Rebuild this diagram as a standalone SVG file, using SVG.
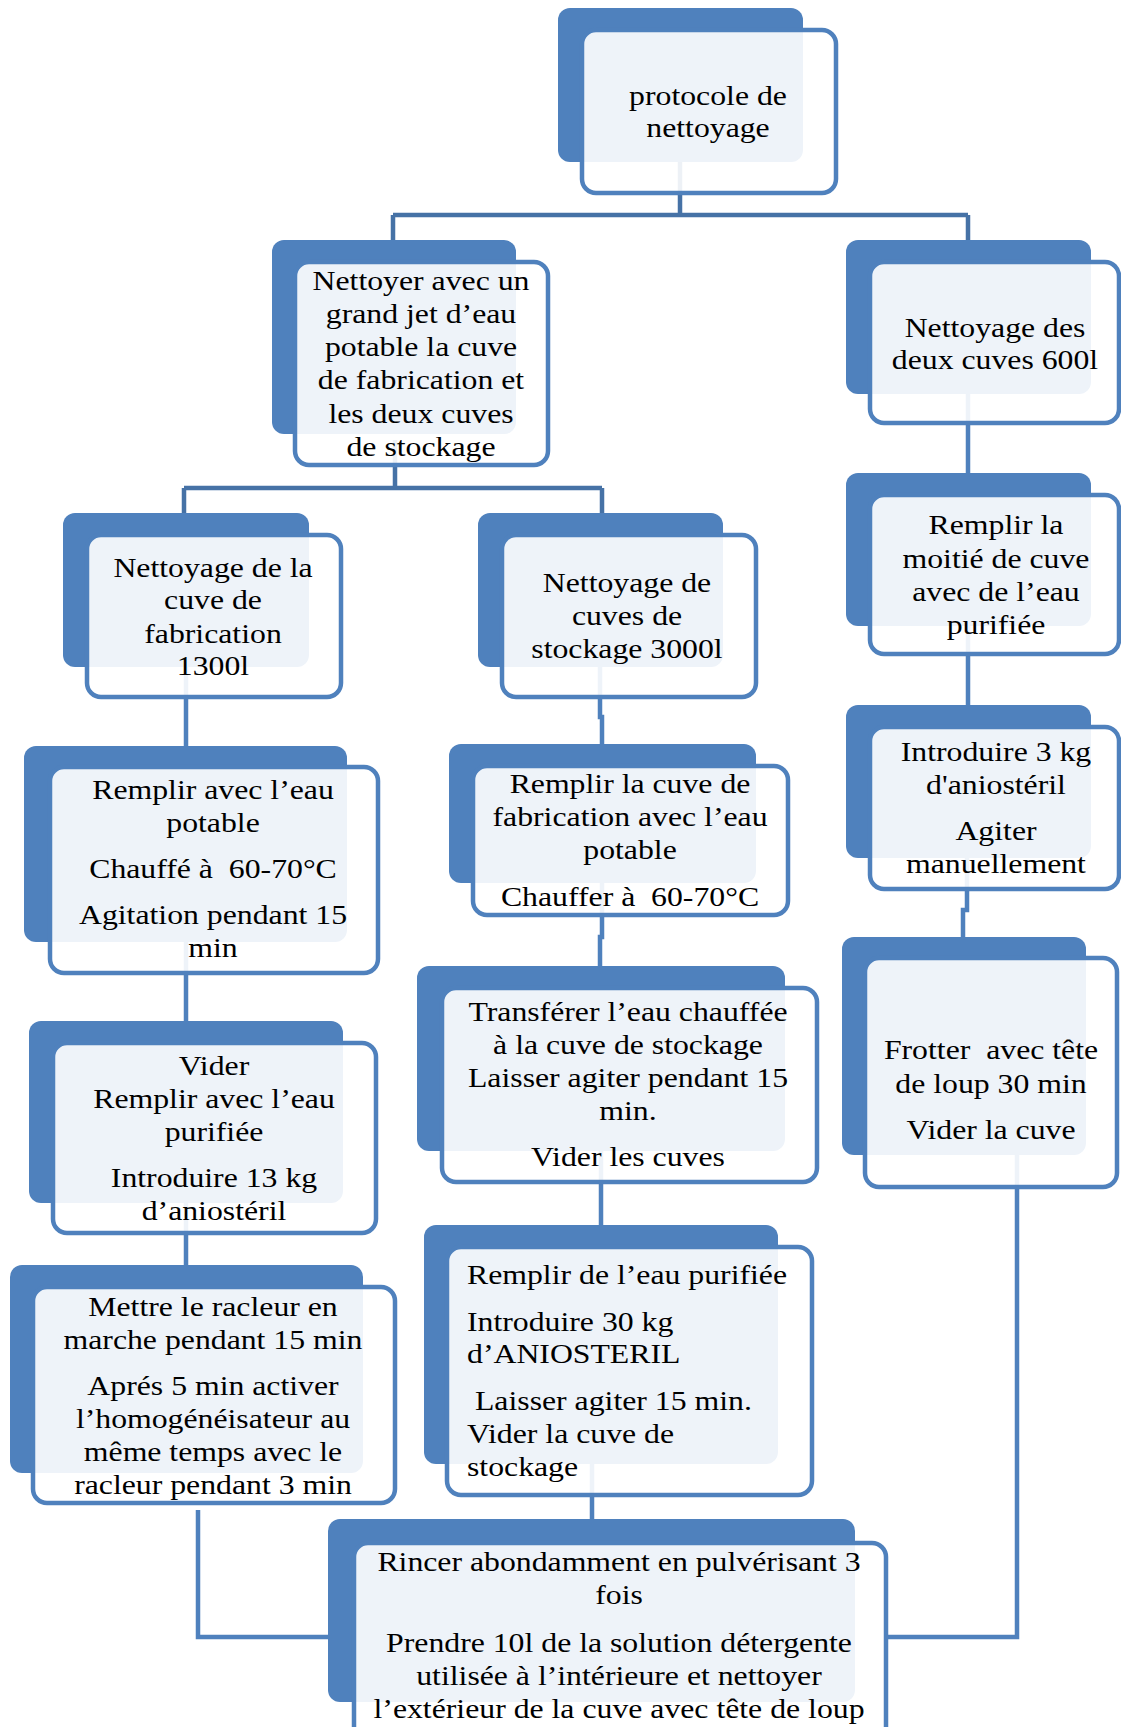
<svg xmlns="http://www.w3.org/2000/svg" width="1121" height="1727" viewBox="0 0 1121 1727">
<style>
.back{fill:#4F81BD}
.front{fill:#fff;fill-opacity:0.9;stroke:#4F81BD;stroke-width:4.5}
.t{font-family:"Liberation Serif","Times New Roman",serif;font-size:26.7px;fill:#000;text-anchor:middle}
.tl{text-anchor:start}
.c1{fill:none;stroke:#4672A6;stroke-width:4.5}
.c2{fill:none;stroke:#4F81BD;stroke-width:4.5}
</style>
<rect width="1121" height="1727" fill="#fff"/>
<g id="connectors">
<path class="c1" d="M680 150V215M393 215H968M393 215V245M968 215V245"/>
<path class="c1" d="M395 440V488M184 488H602M184 488V515M602 488V515"/>
<path class="c2" d="M186 660V750M186 940V1025M186 1200V1268"/>
<path class="c2" d="M600 660V717H602V748M602 880V937H600V970M601 1150V1228M592 1460V1522"/>
<path class="c2" d="M968 390V476M968 620V708M967 855V910H963V940"/>
<path class="c2" d="M1017 1150V1637H884M198 1510V1637H330"/>
</g>
<g id="n1"><rect class="back" x="558" y="8" width="245" height="154" rx="12"/><rect class="front" x="582" y="30" width="254" height="163" rx="14"/>
<g transform="translate(708 0) scale(1.19 1)"><text class="t"><tspan x="0" y="105">protocole de</tspan><tspan x="0" y="137">nettoyage</tspan></text></g></g>
<g id="n2"><rect class="back" x="272" y="240" width="244" height="194" rx="12"/><rect class="front" x="295" y="262" width="253" height="203" rx="14"/>
<g transform="translate(421 0) scale(1.19 1)"><text class="t"><tspan x="0" y="290">Nettoyer avec un</tspan><tspan x="0" y="323">grand jet d’eau</tspan><tspan x="0" y="356">potable la cuve</tspan><tspan x="0" y="389">de fabrication et</tspan><tspan x="0" y="423">les deux cuves</tspan><tspan x="0" y="456">de stockage</tspan></text></g></g>
<g id="n3"><rect class="back" x="846" y="240" width="245" height="154" rx="12"/><rect class="front" x="870" y="262" width="249" height="161" rx="14"/>
<g transform="translate(995 0) scale(1.19 1)"><text class="t"><tspan x="0" y="337">Nettoyage des</tspan><tspan x="0" y="369">deux cuves 600l</tspan></text></g></g>
<g id="n4"><rect class="back" x="846" y="473" width="245" height="153" rx="12"/><rect class="front" x="870" y="495" width="249" height="159" rx="14"/>
<g transform="translate(996 0) scale(1.19 1)"><text class="t"><tspan x="0" y="534">Remplir la</tspan><tspan x="0" y="568">moitié de cuve</tspan><tspan x="0" y="601">avec de l’eau</tspan><tspan x="0" y="634">purifiée</tspan></text></g></g>
<g id="n5"><rect class="back" x="63" y="513" width="246" height="154" rx="12"/><rect class="front" x="87" y="535" width="254" height="162" rx="14"/>
<g transform="translate(213 0) scale(1.19 1)"><text class="t"><tspan x="0" y="577">Nettoyage de la</tspan><tspan x="0" y="609">cuve de</tspan><tspan x="0" y="643">fabrication</tspan><tspan x="0" y="675">1300l</tspan></text></g></g>
<g id="n6"><rect class="back" x="24" y="746" width="323" height="196" rx="12"/><rect class="front" x="50" y="767" width="328" height="206" rx="14"/>
<g transform="translate(213 0) scale(1.19 1)"><text class="t"><tspan x="0" y="799">Remplir avec l’eau</tspan><tspan x="0" y="832">potable</tspan><tspan x="0" y="878">Chauffé à&#160; 60-70°C</tspan><tspan x="0" y="924">Agitation pendant 15</tspan><tspan x="0" y="957">min</tspan></text></g></g>
<g id="n7"><rect class="back" x="478" y="513" width="245" height="154" rx="12"/><rect class="front" x="502" y="535" width="254" height="162" rx="14"/>
<g transform="translate(627 0) scale(1.19 1)"><text class="t"><tspan x="0" y="592">Nettoyage de</tspan><tspan x="0" y="625">cuves de</tspan><tspan x="0" y="658">stockage 3000l</tspan></text></g></g>
<g id="n8"><rect class="back" x="449" y="744" width="307" height="139" rx="12"/><rect class="front" x="473" y="766" width="315" height="149" rx="14"/>
<g transform="translate(630 0) scale(1.19 1)"><text class="t"><tspan x="0" y="793">Remplir la cuve de</tspan><tspan x="0" y="826">fabrication avec l’eau</tspan><tspan x="0" y="859">potable</tspan><tspan x="0" y="906">Chauffer à&#160; 60-70°C</tspan></text></g></g>
<g id="n9"><rect class="back" x="846" y="705" width="245" height="153" rx="12"/><rect class="front" x="870" y="727" width="249" height="162" rx="14"/>
<g transform="translate(996 0) scale(1.19 1)"><text class="t"><tspan x="0" y="761">Introduire 3 kg</tspan><tspan x="0" y="794">d'aniostéril</tspan><tspan x="0" y="840">Agiter</tspan><tspan x="0" y="873">manuellement</tspan></text></g></g>
<g id="n10"><rect class="back" x="842" y="937" width="244" height="218" rx="12"/><rect class="front" x="865" y="958" width="252" height="229" rx="14"/>
<g transform="translate(991 0) scale(1.19 1)"><text class="t"><tspan x="0" y="1059">Frotter&#160; avec tête</tspan><tspan x="0" y="1093">de loup 30 min</tspan><tspan x="0" y="1139">Vider la cuve</tspan></text></g></g>
<g id="n11"><rect class="back" x="29" y="1021" width="314" height="182" rx="12"/><rect class="front" x="53" y="1043" width="323" height="190" rx="14"/>
<g transform="translate(214 0) scale(1.19 1)"><text class="t"><tspan x="0" y="1075">Vider</tspan><tspan x="0" y="1108">Remplir avec l’eau</tspan><tspan x="0" y="1141">purifiée</tspan><tspan x="0" y="1187">Introduire 13 kg</tspan><tspan x="0" y="1220">d’aniostéril</tspan></text></g></g>
<g id="n12"><rect class="back" x="10" y="1265" width="353" height="208" rx="12"/><rect class="front" x="33" y="1287" width="362" height="216" rx="14"/>
<g transform="translate(213 0) scale(1.19 1)"><text class="t"><tspan x="0" y="1316">Mettre le racleur en</tspan><tspan x="0" y="1349">marche pendant 15 min</tspan><tspan x="0" y="1395">Aprés 5 min activer</tspan><tspan x="0" y="1428">l’homogénéisateur au</tspan><tspan x="0" y="1461">même temps avec le</tspan><tspan x="0" y="1494">racleur pendant 3 min</tspan></text></g></g>
<g id="n13"><rect class="back" x="417" y="966" width="368" height="185" rx="12"/><rect class="front" x="442" y="988" width="375" height="194" rx="14"/>
<g transform="translate(628 0) scale(1.19 1)"><text class="t"><tspan x="0" y="1021">Transférer l’eau chauffée</tspan><tspan x="0" y="1054">à la cuve de stockage</tspan><tspan x="0" y="1087">Laisser agiter pendant 15</tspan><tspan x="0" y="1120">min.</tspan><tspan x="0" y="1166">Vider les cuves</tspan></text></g></g>
<g id="n14"><rect class="back" x="424" y="1225" width="354" height="239" rx="12"/><rect class="front" x="447" y="1247" width="365" height="248" rx="14"/>
<g transform="translate(467 0) scale(1.19 1)"><text class="t tl"><tspan x="0" y="1284">Remplir de l’eau purifiée</tspan><tspan x="0" y="1331">Introduire 30 kg</tspan><tspan x="0" y="1363">d’ANIOSTERIL</tspan><tspan x="6.7" y="1410">Laisser agiter 15 min.</tspan><tspan x="0" y="1443">Vider la cuve de</tspan><tspan x="0" y="1476">stockage</tspan></text></g></g>
<g id="n15"><rect class="back" x="328" y="1519" width="527" height="183" rx="12"/><rect class="front" x="354" y="1543" width="532" height="200" rx="14"/>
<g transform="translate(619 0) scale(1.19 1)"><text class="t"><tspan x="0" y="1571">Rincer abondamment en pulvérisant 3</tspan><tspan x="0" y="1604">fois</tspan><tspan x="0" y="1652">Prendre 10l de la solution détergente</tspan><tspan x="0" y="1685">utilisée à l’intérieure et nettoyer</tspan><tspan x="0" y="1718">l’extérieur de la cuve avec tête de loup</tspan></text></g></g>
</svg>
